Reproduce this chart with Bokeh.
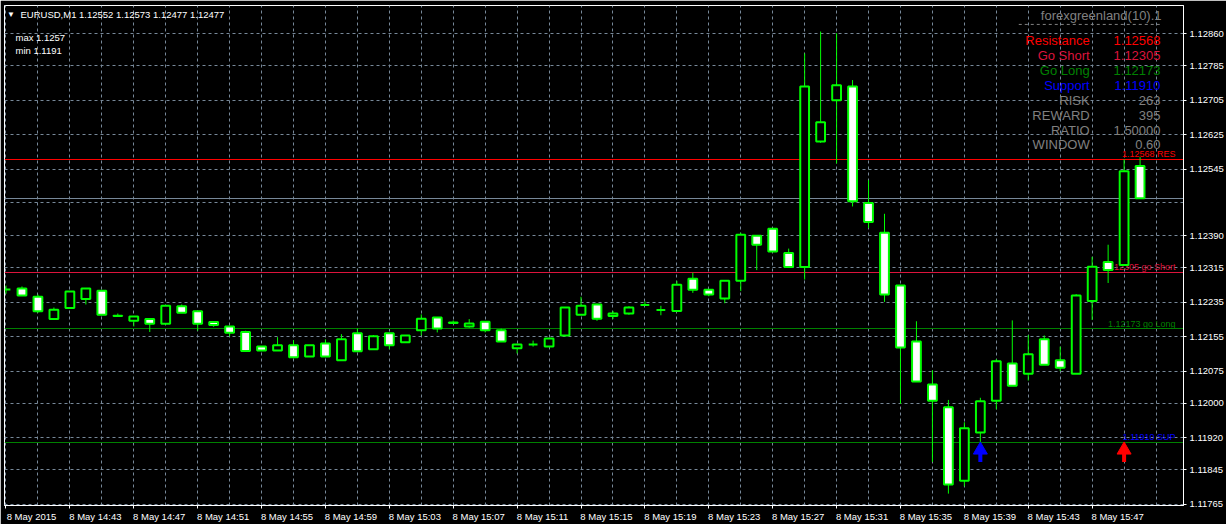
from bokeh.plotting import figure
from bokeh.models import Range1d, FixedTicker, Label, ColumnDataSource
from bokeh.core.properties import value
from bokeh.embed import file_html
from bokeh.resources import INLINE

# ---------------- data ----------------
symbol = "EURUSD,M1"
candle_idx = list(range(72))  # one candle per minute, 14:39 .. 15:50
opens = [1.12265, 1.12267, 1.12248, 1.12196, 1.12222, 1.12243, 1.12262, 1.12204, 1.12192, 1.12196,
         1.12185, 1.12226, 1.12214, 1.12189, 1.12179, 1.12166, 1.12132, 1.12123, 1.12135, 1.12109,
         1.12139, 1.12100, 1.12163, 1.12126, 1.12163, 1.12142, 1.12170, 1.12200, 1.12188, 1.12179,
         1.12190, 1.12170, 1.12128, 1.12137, 1.12132, 1.12158, 1.12206, 1.12230, 1.12203, 1.12209,
         1.12229, 1.12217, 1.12215, 1.12290, 1.12264, 1.12244, 1.12285, 1.12390, 1.12406, 1.12350,
         1.12317, 1.12609, 1.12705, 1.12737, 1.12466, 1.12397, 1.12274, 1.12144, 1.12044, 1.11991,
         1.11820, 1.11932, 1.12006, 1.12093, 1.12069, 1.12149, 1.12100, 1.12069, 1.12238, 1.12329,
         1.12322, 1.12552]
highs = [1.12274, 1.12272, 1.12253, 1.12223, 1.12260, 1.12267, 1.12262, 1.12209, 1.12202, 1.12196,
         1.12227, 1.12230, 1.12214, 1.12189, 1.12179, 1.12169, 1.12132, 1.12154, 1.12147, 1.12135,
         1.12149, 1.12161, 1.12174, 1.12159, 1.12163, 1.12158, 1.12207, 1.12200, 1.12193, 1.12196,
         1.12190, 1.12174, 1.12137, 1.12146, 1.12151, 1.12223, 1.12248, 1.12232, 1.12215, 1.12226,
         1.12237, 1.12227, 1.12285, 1.12304, 1.12264, 1.12285, 1.12397, 1.12390, 1.12406, 1.12360,
         1.12814, 1.12865, 1.12861, 1.12752, 1.12519, 1.12441, 1.12274, 1.12191, 1.12077, 1.12008,
         1.11956, 1.12013, 1.12103, 1.12193, 1.12159, 1.12158, 1.12132, 1.12254, 1.12341, 1.12369,
         1.12568, 1.12573]
lows = [1.12255, 1.12251, 1.12211, 1.12196, 1.12222, 1.12230, 1.12206, 1.12203, 1.12179, 1.12166,
        1.12185, 1.12211, 1.12169, 1.12178, 1.12156, 1.12122, 1.12123, 1.12123, 1.12107, 1.12109,
        1.12109, 1.12100, 1.12121, 1.12126, 1.12126, 1.12142, 1.12158, 1.12165, 1.12187, 1.12176,
        1.12165, 1.12144, 1.12116, 1.12132, 1.12132, 1.12156, 1.12206, 1.12192, 1.12196, 1.12206,
        1.12229, 1.12205, 1.12215, 1.12257, 1.12249, 1.12233, 1.12261, 1.12310, 1.12353, 1.12317,
        1.12288, 1.12606, 1.12558, 1.12458, 1.12408, 1.12236, 1.11999, 1.12051, 1.11864, 1.11790,
        1.11807, 1.11910, 1.11986, 1.12041, 1.12053, 1.12090, 1.12075, 1.12069, 1.12194, 1.12280,
        1.12322, 1.12477]
closes = [1.12265, 1.12251, 1.12214, 1.12218, 1.12260, 1.12267, 1.12206, 1.12203, 1.12202, 1.12185,
          1.12227, 1.12211, 1.12185, 1.12182, 1.12164, 1.12122, 1.12123, 1.12135, 1.12107, 1.12135,
          1.12109, 1.12149, 1.12121, 1.12156, 1.12135, 1.12158, 1.12197, 1.12174, 1.12187, 1.12186,
          1.12170, 1.12144, 1.12137, 1.12137, 1.12151, 1.12223, 1.12227, 1.12197, 1.12209, 1.12223,
          1.12229, 1.12217, 1.12276, 1.12264, 1.12253, 1.12285, 1.12392, 1.12369, 1.12353, 1.12317,
          1.12737, 1.12654, 1.12740, 1.12470, 1.12422, 1.12253, 1.12130, 1.12051, 1.12006, 1.11811,
          1.11942, 1.12005, 1.12098, 1.12041, 1.12114, 1.12090, 1.12083, 1.12251, 1.12318, 1.12310,
          1.12540, 1.12477]

x_tick_idx = [0, 4, 8, 12, 16, 20, 24, 28, 32, 36, 40, 44, 48, 52, 56, 60, 64, 68]
x_tick_labels = ["8 May 2015", "8 May 14:43", "8 May 14:47", "8 May 14:51", "8 May 14:55",
                 "8 May 14:59", "8 May 15:03", "8 May 15:07", "8 May 15:11", "8 May 15:15",
                 "8 May 15:19", "8 May 15:23", "8 May 15:27", "8 May 15:31", "8 May 15:35",
                 "8 May 15:39", "8 May 15:43", "8 May 15:47"]
y_tick_vals = [1.12860, 1.12785, 1.12705, 1.12625, 1.12545, 1.12390, 1.12315, 1.12235,
               1.12155, 1.12075, 1.12000, 1.11920, 1.11845, 1.11765]
y_tick_labels = ["1.12860", "1.12785", "1.12705", "1.12625", "1.12545", "1.12390", "1.12315",
                 "1.12235", "1.12155", "1.12075", "1.12000", "1.11920", "1.11845", "1.11765"]
hidden_grid_vals = [1.12468]  # grid line whose label sits under the price box

level_names = ["Resistance", "Go Short", "Go Long", "Support"]
level_values = [1.12568, 1.12305, 1.12173, 1.11910]
level_tags = ["RES", "go Short", "go Long", "SUP"]
level_text_colors = ["#ff0000", "#dc143c", "#008000", "#0000ff"]
level_line_colors = ["#ff0000", "#dc143c", "#008000", "#008000"]
stat_names = ["RISK", "REWARD", "RATIO", "WINDOW"]
stat_values = ["263", "395", "1.50000", "0.60"]
indicator_name = "forexgreenland(10).1"
window_max = "1.1257"
window_min = "1.1191"
signal_idx = [61, 70]
signal_colors = ["#0000ff", "#ff0000"]

# ---------------- layout ----------------
W, H = 1226, 524
FL, FR, FT, FB = 4, 1185, 5, 507
PITCH = 16.0
C0 = 5.5
x0 = (FL - C0) / PITCH
x1 = (FR - C0) / PITCH
PXU = 43161.0
ANCH_PX, ANCH_V = 159.3, 1.12568
y1 = ANCH_V + (ANCH_PX - FT) / PXU
y0 = ANCH_V - (FB - ANCH_PX) / PXU
LBL_SHIFT = 25.5 / PITCH  # x labels start at their tick: centre them half a label to the right


def sx(px):
    return x0 + (px - FL) / (FR - FL) * (x1 - x0)


def sy(py):
    return y1 - (py - FT) / (FB - FT) * (y1 - y0)


FONT = value("Liberation Sans")
GRID = "#778899"
GREEN = "#00ff00"

p = figure(width=W, height=H, x_range=Range1d(x0, x1), y_range=Range1d(y0, y1),
           y_axis_location="right", output_backend="svg", toolbar_location=None,
           background_fill_color="black", border_fill_color="black",
           min_border_left=FL, min_border_top=FT, min_border_right=W - FR,
           min_border_bottom=H - FB, outline_line_color="white")

# axes
ya = p.yaxis[0]
ya.ticker = FixedTicker(ticks=y_tick_vals)
ya.major_label_overrides = {v: s for v, s in zip(y_tick_vals, y_tick_labels)}
xa = p.xaxis[0]
lbl_pos = [k + LBL_SHIFT for k in x_tick_idx]
xa.ticker = FixedTicker(ticks=lbl_pos, minor_ticks=x_tick_idx)
xa.major_label_overrides = {v: s for v, s in zip(lbl_pos, x_tick_labels)}
for ax in (xa, ya):
    ax.axis_line_color = "white"
    ax.major_tick_line_color = "white"
    ax.minor_tick_line_color = None
    ax.major_tick_in = 0
    ax.major_tick_out = 3
    ax.major_label_text_color = "white"
    ax.major_label_text_font = "Liberation Sans"
    ax.major_label_text_font_size = "9.5px"
ya.major_label_standoff = 3
xa.major_tick_line_color = None
xa.minor_tick_line_color = "white"
xa.minor_tick_in = 0
xa.minor_tick_out = 3
xa.major_label_standoff = 2

# grid
p.xgrid.ticker = FixedTicker(ticks=list(range(0, 73, 2)))
p.ygrid.ticker = FixedTicker(ticks=y_tick_vals + hidden_grid_vals)
for g in (p.xgrid, p.ygrid):
    g.grid_line_color = GRID
    g.grid_line_dash = "3 3"
    g.grid_line_width = 1

# level lines and current-price line
p.hspan(y=level_values, line_color=level_line_colors, line_width=1)
p.hspan(y=[closes[-1]], line_color=GRID, line_width=1)

# level tags (drawn before candles so candles cover them)
p.text(x=[x1] * 4, y=level_values,
       text=[f"{v:.5f} {t}" for v, t in zip(level_values, level_tags)],
       text_color=level_text_colors, text_align="right", text_baseline="bottom",
       x_offset=-8, y_offset=0, text_font=FONT, text_font_size="9px")

# candles
src = ColumnDataSource(dict(
    x=candle_idx, o=opens, h=highs, l=lows, c=closes,
    top=[max(o, c) for o, c in zip(opens, closes)],
    bot=[min(o, c) for o, c in zip(opens, closes)],
    fill=["white" if c < o else "black" for o, c in zip(opens, closes)],
))
p.segment(x0="x", y0="h", x1="x", y1="l", source=src, line_color=GREEN, line_width=1)
p.vbar(x="x", width=0.55, top="top", bottom="bot", source=src, fill_color="fill",
       line_color=GREEN, line_width=2)

# signal arrows just under the support level (head + stem, offsets in screen px)
sup = level_values[3]
n_sig = len(signal_idx)
p.segment(x0=signal_idx, x1=signal_idx, y0=[sup - 10 / PXU] * n_sig, y1=[sup - 20 / PXU] * n_sig,
          line_color=signal_colors, line_width=4)
p.scatter(x=signal_idx, y=[sup - 8 / PXU] * n_sig, marker="triangle", size=14,
          fill_color=signal_colors, line_color=signal_colors, line_width=1)

# info panel
panel_labels = level_names + stat_names
panel_vals = [f"{v:.5f}" for v in level_values] + stat_values
panel_colors = level_text_colors + ["#808080"] * len(stat_names)
rows = [sy(40 + 15 * i) for i in range(len(panel_labels))]
p.text(x=[sx(1091)] * len(rows), y=rows, text=panel_labels, text_color=panel_colors,
       text_align="right", text_baseline="middle", text_font=FONT, text_font_size="13px")
p.text(x=[sx(1162)] * len(rows), y=rows, text=panel_vals, text_color=panel_colors,
       text_align="right", text_baseline="middle", text_font=FONT, text_font_size="13px")
p.text(x=[sx(1163)], y=[sy(15)], text=[indicator_name], text_color="#808080",
       text_align="right", text_baseline="middle", text_font=FONT, text_font_size="13px")
p.line(x=[sx(1020), sx(1163)], y=[sy(24), sy(24)], line_color="#808080", line_dash="3 3")

# header and window info
hdr = f"{symbol}  {opens[-1]:.5f} {highs[-1]:.5f} {lows[-1]:.5f} {closes[-1]:.5f}"
p.add_layout(Label(x=sx(6.5), y=sy(14), text="▼", text_color="white", text_baseline="middle",
                   text_font="Liberation Sans", text_font_size="8px"))
p.add_layout(Label(x=sx(20), y=sy(14), text=hdr, text_color="white", text_baseline="middle",
                   text_font="Liberation Sans", text_font_size="9.5px"))
p.add_layout(Label(x=sx(15), y=sy(37), text=f"max {window_max}", text_color="white",
                   text_baseline="middle", text_font="Liberation Sans", text_font_size="9.5px"))
p.add_layout(Label(x=sx(15), y=sy(50), text=f"min {window_min}", text_color="white",
                   text_baseline="middle", text_font="Liberation Sans", text_font_size="9.5px"))

# current price box on the price scale
p.add_layout(Label(x=x1, y=closes[-1], x_offset=2, text=f"{closes[-1]:.5f}", text_color="black",
                   background_fill_color="white", text_baseline="middle", padding=2,
                   text_font="Liberation Sans", text_font_size="9.5px"))

open("out.html", "w").write(file_html(p, INLINE))
